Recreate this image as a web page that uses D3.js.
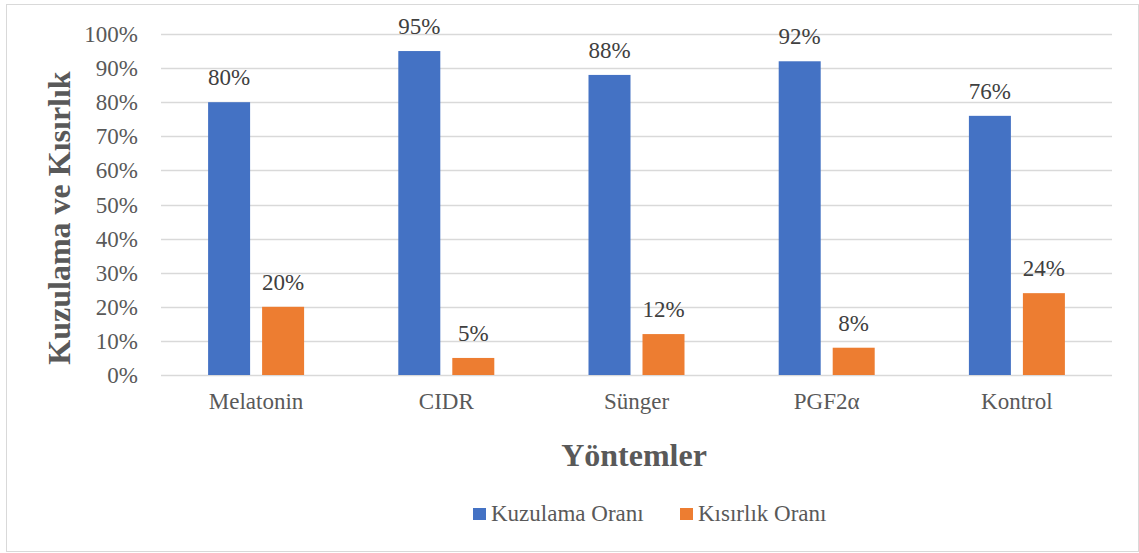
<!DOCTYPE html>
<html lang="en">
<head>
  <meta charset="UTF-8">
  <title>Kuzulama ve Kısırlık</title>
  <script src="https://d3js.org/d3.v7.min.js"></script>
  <style>
    body { margin: 0; overflow: hidden; background: #fff; }
  </style>
</head>
<body>
  <script>
    const width = 1139;
    const height = 553;

    // data
    const categories = ["Melatonin", "CIDR", "Sünger", "PGF2α", "Kontrol"];
    const seriesNames = ["Kuzulama Oranı", "Kısırlık Oranı"];
    const kuzulama = [80, 95, 88, 92, 76];
    const kisirlik = [20, 5, 12, 8, 24];
    const yTicks = [0, 10, 20, 30, 40, 50, 60, 70, 80, 90, 100];
    const colors = ["#4472c4", "#ed7d31"];

    const series = [kuzulama, kisirlik];
    const font = "'Liberation Serif', 'Times New Roman', serif";

    const svg = d3.select("body").append("svg")
      .attr("width", width)
      .attr("height", height)
      .attr("font-family", font);

    // outer chart border
    svg.append("rect")
      .attr("x", 6.5).attr("y", 4.5)
      .attr("width", width - 7).attr("height", 547)
      .attr("fill", "#fff")
      .attr("stroke", "#d9d9d9");

    const plot = { left: 161, right: 1112, top: 34, bottom: 375 };

    const x = d3.scaleBand()
      .domain(categories)
      .range([plot.left, plot.right]);

    const y = d3.scaleLinear()
      .domain([0, 100])
      .range([plot.bottom, plot.top]);

    // gridlines
    svg.append("g")
      .selectAll("line")
      .data(yTicks)
      .join("line")
      .attr("x1", plot.left).attr("x2", plot.right)
      .attr("y1", d => Math.round(y(d)) + 0.5)
      .attr("y2", d => Math.round(y(d)) + 0.5)
      .attr("stroke", "#d9d9d9")
      .attr("stroke-width", 1.3);

    // y tick labels
    svg.append("g")
      .selectAll("text")
      .data(yTicks)
      .join("text")
      .attr("x", 138)
      .attr("y", d => y(d))
      .attr("dy", "0.35em")
      .attr("text-anchor", "end")
      .attr("font-size", 23)
      .attr("fill", "#595959")
      .text(d => d + "%");

    // bars
    const barW = 42, gap = 12;
    const offset = i => x.bandwidth() / 2 - (barW + gap / 2) + i * (barW + gap);

    series.forEach((vals, si) => {
      const g = svg.append("g");
      g.selectAll("rect")
        .data(vals)
        .join("rect")
        .attr("x", (d, i) => x(categories[i]) + offset(si))
        .attr("y", d => y(d))
        .attr("width", barW)
        .attr("height", d => y(0) - y(d))
        .attr("fill", colors[si]);

      g.selectAll("text")
        .data(vals)
        .join("text")
        .attr("x", (d, i) => x(categories[i]) + offset(si) + barW / 2)
        .attr("y", d => y(d) - 17)
        .attr("text-anchor", "middle")
        .attr("font-size", 23)
        .attr("fill", "#404040")
        .text(d => d + "%");
    });

    // category labels
    svg.append("g")
      .selectAll("text")
      .data(categories)
      .join("text")
      .attr("x", d => x(d) + x.bandwidth() / 2)
      .attr("y", 409)
      .attr("text-anchor", "middle")
      .attr("font-size", 23)
      .attr("fill", "#595959")
      .text(d => d);

    // axis titles
    svg.append("text")
      .attr("x", 634)
      .attr("y", 466)
      .attr("text-anchor", "middle")
      .attr("font-size", 32)
      .attr("font-weight", "bold")
      .attr("fill", "#595959")
      .text("Yöntemler");

    svg.append("text")
      .attr("transform", "translate(70,218) rotate(-90)")
      .attr("text-anchor", "middle")
      .attr("font-size", 32)
      .attr("font-weight", "bold")
      .attr("fill", "#595959")
      .text("Kuzulama ve Kısırlık");

    // legend
    const legendX = [473, 680];
    const legend = svg.append("g");
    seriesNames.forEach((name, i) => {
      legend.append("rect")
        .attr("x", legendX[i]).attr("y", 508)
        .attr("width", 13).attr("height", 12)
        .attr("fill", colors[i]);
      legend.append("text")
        .attr("x", legendX[i] + 18)
        .attr("y", 521)
        .attr("font-size", 23)
        .attr("fill", "#595959")
        .text(name);
    });
  </script>
</body>
</html>
